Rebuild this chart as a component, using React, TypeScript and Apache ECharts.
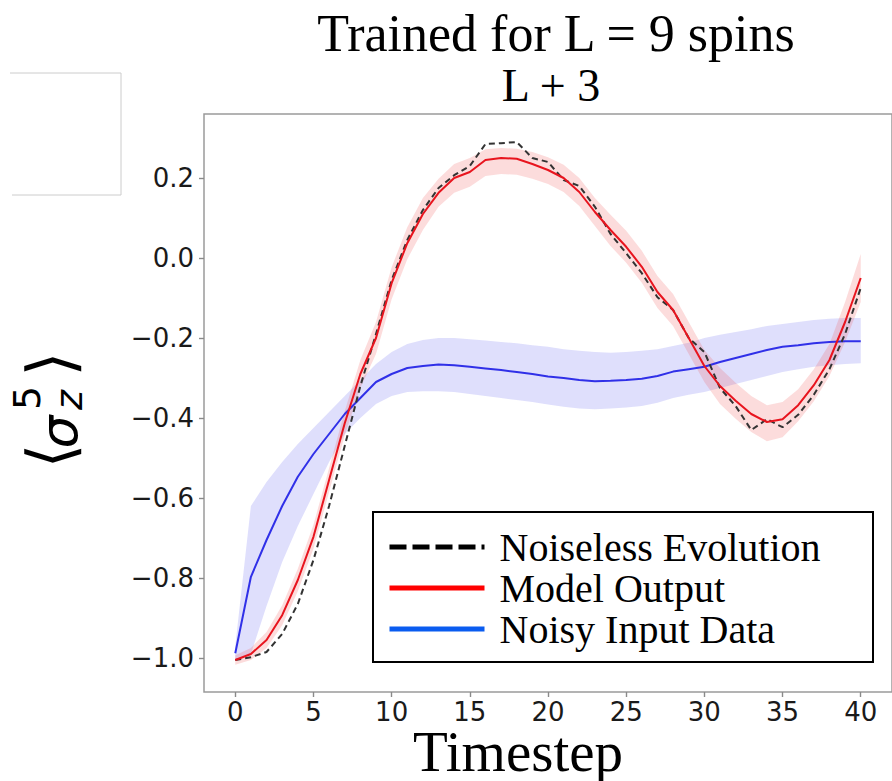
import React, { useEffect, useRef } from "react";
import * as echarts from "echarts";

const timesteps = [0, 1, 2, 3, 4, 5, 6, 7, 8, 9, 10, 11, 12, 13, 14, 15, 16, 17, 18, 19, 20, 21, 22, 23, 24, 25, 26, 27, 28, 29, 30, 31, 32, 33, 34, 35, 36, 37, 38, 39, 40];

const noiseless = [-1.005, -0.998, -0.985, -0.94, -0.865, -0.755, -0.62, -0.47, -0.32, -0.19, -0.055, 0.045, 0.12, 0.175, 0.207, 0.23, 0.285, 0.287, 0.29, 0.25, 0.24, 0.195, 0.18, 0.128, 0.06, 0.012, -0.038, -0.098, -0.13, -0.2, -0.235, -0.325, -0.37, -0.43, -0.403, -0.423, -0.392, -0.342, -0.278, -0.19, -0.075];

const modelOutput = [-1.005, -0.99, -0.955, -0.893, -0.805, -0.697, -0.555, -0.413, -0.29, -0.2, -0.063, 0.037, 0.11, 0.163, 0.2, 0.215, 0.245, 0.25, 0.248, 0.235, 0.22, 0.2, 0.165, 0.115, 0.07, 0.028, -0.022, -0.085, -0.13, -0.2, -0.27, -0.32, -0.357, -0.39, -0.41, -0.403, -0.368, -0.318, -0.255, -0.16, -0.05];
const modelUpper = [-0.993, -0.975, -0.935, -0.868, -0.777, -0.667, -0.525, -0.383, -0.255, -0.16, -0.023, 0.077, 0.15, 0.198, 0.235, 0.25, 0.272, 0.275, 0.273, 0.265, 0.252, 0.233, 0.2, 0.15, 0.108, 0.068, 0.018, -0.045, -0.09, -0.16, -0.23, -0.275, -0.312, -0.345, -0.368, -0.36, -0.328, -0.278, -0.215, -0.11, 0.01];
const modelLower = [-1.017, -1.005, -0.975, -0.918, -0.833, -0.727, -0.585, -0.443, -0.325, -0.24, -0.103, -0.003, 0.07, 0.128, 0.163, 0.178, 0.205, 0.21, 0.208, 0.198, 0.185, 0.165, 0.13, 0.08, 0.03, -0.012, -0.062, -0.125, -0.17, -0.24, -0.31, -0.365, -0.402, -0.435, -0.458, -0.448, -0.408, -0.358, -0.295, -0.21, -0.11];

const noisyInput = [-0.988, -0.797, -0.705, -0.62, -0.547, -0.49, -0.44, -0.39, -0.35, -0.31, -0.29, -0.275, -0.27, -0.266, -0.268, -0.272, -0.276, -0.28, -0.285, -0.29, -0.296, -0.3, -0.305, -0.308, -0.307, -0.305, -0.302, -0.295, -0.284, -0.278, -0.272, -0.26, -0.25, -0.24, -0.23, -0.222, -0.218, -0.213, -0.21, -0.208, -0.208];
const noisyUpper = [-0.97, -0.62, -0.56, -0.51, -0.465, -0.425, -0.385, -0.345, -0.305, -0.265, -0.235, -0.215, -0.205, -0.2, -0.2, -0.203, -0.206, -0.21, -0.213, -0.218, -0.222, -0.228, -0.232, -0.235, -0.237, -0.235, -0.232, -0.228, -0.22, -0.212, -0.2, -0.192, -0.185, -0.178, -0.17, -0.165, -0.16, -0.155, -0.152, -0.15, -0.15];
const noisyLower = [-1.005, -0.99, -0.87, -0.76, -0.67, -0.59, -0.51, -0.44, -0.4, -0.365, -0.345, -0.335, -0.333, -0.333, -0.335, -0.34, -0.345, -0.35, -0.355, -0.36, -0.366, -0.372, -0.376, -0.378, -0.376, -0.374, -0.37, -0.362, -0.35, -0.342, -0.335, -0.325, -0.315, -0.305, -0.295, -0.285, -0.278, -0.272, -0.268, -0.265, -0.263];

const xTicks = [0, 5, 10, 15, 20, 25, 30, 35, 40];
const yTicks = [-1.0, -0.8, -0.6, -0.4, -0.2, 0.0, 0.2];

const legendNames = ["Noiseless Evolution", "Model Output", "Noisy Input Data"];
const titleLines = ["Trained for L = 9 spins", "L + 3"];
const xAxisTitle = "Timestep";

const SERIF = "'Liberation Serif', 'Times New Roman', serif";
const SANS = "'DejaVu Sans', sans-serif";

export default function App() {
  const ref = useRef<HTMLDivElement>(null);

  useEffect(() => {
    if (!ref.current) return;
    const chart = echarts.init(ref.current, null, { renderer: "svg" });

    const pairs = (ys: number[]) => timesteps.map((x, i) => [x, ys[i]]);

    // shaded band between lo and hi, drawn as one polygon through the axis scales
    const band = (name: string, lo: number[], hi: number[], color: string) => ({
      name,
      type: "custom",
      silent: true,
      data: timesteps.map((x, i) => [x, lo[i], hi[i]]),
      encode: { x: 0, y: [1, 2] },
      renderItem: (params: any, api: any) => {
        if (params.dataIndex !== 0) return null;
        const top = timesteps.map((x, i) => api.coord([x, hi[i]]));
        const bottom = timesteps.map((x, i) => api.coord([x, lo[i]])).reverse();
        return {
          type: "polygon",
          shape: { points: top.concat(bottom) },
          style: { fill: color, stroke: "none" },
        };
      },
    });

    const yFmt = (v: number) => {
      const r = Math.round(v * 10) / 10;
      return r < 0 ? "\u2212" + Math.abs(r).toFixed(1) : r.toFixed(1);
    };

    const hiddenSymbol = { color: "rgba(0,0,0,0)", borderWidth: 0, opacity: 0 };

    const option: any = {
      animation: false,
      backgroundColor: "#ffffff",
      grid: {
        left: 204,
        top: 114,
        width: 697,
        height: 578,
        show: true,
        borderColor: "#9a9a9a",
        borderWidth: 1.5,
        backgroundColor: "transparent",
      },
      xAxis: {
        type: "value",
        min: -2,
        max: 42,
        axisLine: { show: false, onZero: false },
        splitLine: { show: false },
        axisTick: {
          show: true,
          customValues: xTicks,
          length: 5,
          lineStyle: { color: "#8a8a8a", width: 1.4 },
        },
        axisLabel: {
          customValues: xTicks,
          margin: 7,
          fontFamily: SANS,
          fontSize: 26,
          lineHeight: 26,
          color: "#1a1a1a",
        },
      },
      yAxis: {
        type: "value",
        min: -1.085,
        max: 0.36,
        axisLine: { show: false, onZero: false },
        splitLine: { show: false },
        axisTick: {
          show: true,
          customValues: yTicks,
          length: 5,
          lineStyle: { color: "#8a8a8a", width: 1.4 },
        },
        axisLabel: {
          customValues: yTicks,
          margin: 10,
          fontFamily: SANS,
          fontSize: 26,
          color: "#1a1a1a",
          formatter: yFmt,
        },
      },
      legend: {
        show: true,
        orient: "vertical",
        left: 387,
        top: 527,
        z: 10,
        itemWidth: 95,
        itemHeight: 14,
        itemGap: 1,
        padding: 0,
        selectedMode: false,
        textStyle: {
          fontFamily: SERIF,
          fontSize: 40,
          color: "#000",
          lineHeight: 39,
          padding: [0, 0, 0, 10],
        },
        data: [
          { name: legendNames[0], itemStyle: hiddenSymbol, lineStyle: { color: "#000", width: 5, type: [17, 6] } },
          { name: legendNames[1], itemStyle: hiddenSymbol, lineStyle: { color: "#ff0000", width: 5 } },
          { name: legendNames[2], itemStyle: hiddenSymbol, lineStyle: { color: "#0a5cf0", width: 5 } },
        ],
      },
      graphic: [
        {
          type: "polyline",
          shape: { points: [[10, 73], [121, 73], [121, 195], [12, 195]] },
          style: { stroke: "#cccccc", lineWidth: 1, fill: "none" },
        },
        {
          type: "rect",
          z: 5,
          shape: { x: 373, y: 512, width: 500, height: 150 },
          style: { fill: "#ffffff", stroke: "#000000", lineWidth: 2 },
        },
        {
          type: "text",
          x: 556,
          y: 33,
          style: { text: titleLines[0], font: `52px ${SERIF}`, fill: "#000", align: "center", verticalAlign: "middle" },
        },
        {
          type: "text",
          x: 551,
          y: 85,
          style: { text: titleLines[1], font: `46px ${SERIF}`, fill: "#000", align: "center", verticalAlign: "middle" },
        },
        {
          type: "text",
          x: 518,
          y: 751,
          style: { text: xAxisTitle, font: `57px ${SERIF}`, lineHeight: 40, fill: "#000", align: "center", verticalAlign: "middle" },
        },
        // y-axis label  ⟨σ_z^5⟩ (rotated)
        {
          type: "text",
          x: 51,
          y: 456,
          rotation: Math.PI / 2,
          style: { text: "\u27E8", font: `64px ${SANS}`, fill: "#000", align: "center", verticalAlign: "middle" },
        },
        {
          type: "text",
          x: 59,
          y: 432,
          rotation: Math.PI / 2,
          style: { text: "\u03C3", font: `italic 52px ${SANS}`, fill: "#000", align: "center", verticalAlign: "middle" },
        },
        {
          type: "text",
          x: 69,
          y: 400,
          rotation: Math.PI / 2,
          style: { text: "z", font: `italic 38px ${SANS}`, fill: "#000", align: "center", verticalAlign: "middle" },
        },
        {
          type: "text",
          x: 27,
          y: 398,
          rotation: Math.PI / 2,
          style: { text: "5", font: `38px ${SANS}`, fill: "#000", align: "center", verticalAlign: "middle" },
        },
        {
          type: "text",
          x: 51,
          y: 364,
          rotation: Math.PI / 2,
          style: { text: "\u27E9", font: `64px ${SANS}`, fill: "#000", align: "center", verticalAlign: "middle" },
        },
      ],
      series: [
        band("noisyBand", noisyLower, noisyUpper, "rgba(95, 95, 240, 0.2)"),
        band("modelBand", modelLower, modelUpper, "rgba(240, 80, 80, 0.2)"),
        {
          name: legendNames[2],
          type: "line",
          data: pairs(noisyInput),
          symbol: "none",
          lineStyle: { color: "#3030e8", width: 2 },
          itemStyle: { color: "#3030e8" },
        },
        {
          name: legendNames[0],
          type: "line",
          data: pairs(noiseless),
          symbol: "none",
          lineStyle: { color: "#333333", width: 2, type: [6, 4] },
          itemStyle: { color: "#333333" },
        },
        {
          name: legendNames[1],
          type: "line",
          data: pairs(modelOutput),
          symbol: "none",
          lineStyle: { color: "#e8141e", width: 2 },
          itemStyle: { color: "#e8141e" },
        },
      ],
    };

    chart.setOption(option);
    return () => chart.dispose();
  }, []);

  return (
    <div
      ref={ref}
      style={{ position: "fixed", left: 0, top: 0, width: 892, height: 781, background: "#fff" }}
    />
  );
}
